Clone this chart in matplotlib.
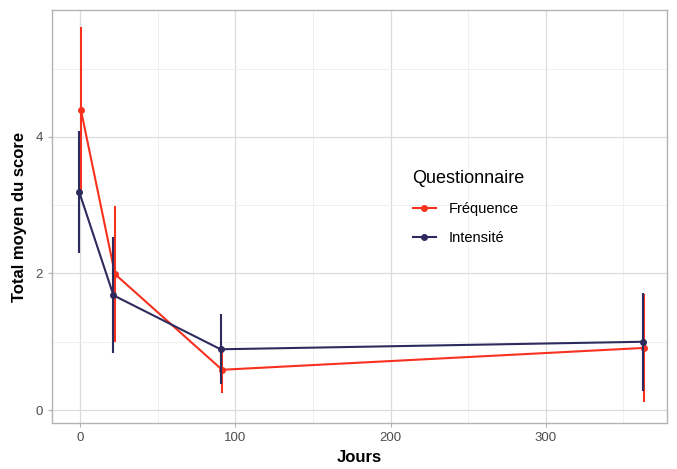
import numpy as np
import matplotlib.pyplot as plt
from matplotlib.lines import Line2D

plt.rcParams['font.family'] = ['Liberation Sans', 'DejaVu Sans']

# data
jours = [0, 22, 91, 363]
freq_mean = [4.40, 1.99, 0.59, 0.91]
freq_err = [1.21, 1.00, 0.34, 0.79]
int_mean = [3.19, 1.68, 0.89, 1.00]
int_err = [0.89, 0.85, 0.51, 0.72]
series_names = ["Fréquence", "Intensité"]

col_f = "#f8311f"
col_i = "#2d2b5e"
dodge = 0.5

fig = plt.figure(figsize=(6.77, 4.69), dpi=100)
ax = fig.add_axes([0.077, 0.098, 0.908, 0.881])

x = np.array(jours, dtype=float)
ax.errorbar(x + dodge, freq_mean, yerr=freq_err, color=col_f, lw=1.5,
            marker='o', ms=4, elinewidth=1.5, capsize=0, zorder=3)
ax.errorbar(x - dodge, int_mean, yerr=int_err, color=col_i, lw=1.5,
            marker='o', ms=4, elinewidth=1.5, capsize=0, zorder=4)

ax.set_xlim(-18, 378)
ax.set_ylim(-0.19, 5.86)
ax.set_xticks([0, 100, 200, 300])
ax.set_xticks([50, 150, 250, 350], minor=True)
ax.set_yticks([0, 2, 4])
ax.set_yticks([1, 3, 5], minor=True)
ax.grid(True, which='major', color='#dcdcdc', lw=0.9)
ax.grid(True, which='minor', color='#eeeeee', lw=0.6)
ax.set_axisbelow(True)
for s in ax.spines.values():
    s.set_color('#b3b3b3')
    s.set_linewidth(1.0)
ax.tick_params(which='major', length=3, color='#b3b3b3', labelsize=9.5,
               labelcolor='#4d4d4d')
ax.tick_params(which='minor', length=0)

ax.set_xlabel("Jours", fontsize=12, fontweight='bold', labelpad=4)
ax.set_ylabel("Total moyen du score", fontsize=12, fontweight='bold', labelpad=6)

handles = [Line2D([], [], color=col_f, marker='o', ms=4, lw=1.5),
           Line2D([], [], color=col_i, marker='o', ms=4, lw=1.5)]
leg = ax.legend(handles, series_names, title="Questionnaire",
                loc='upper left', bbox_to_anchor=(0.565, 0.645),
                frameon=False, fontsize=10.5, title_fontsize=13,
                handlelength=1.6, labelspacing=1.05, handletextpad=0.9)
leg._legend_box.align = "left"

fig.savefig("out.png", dpi=100)
